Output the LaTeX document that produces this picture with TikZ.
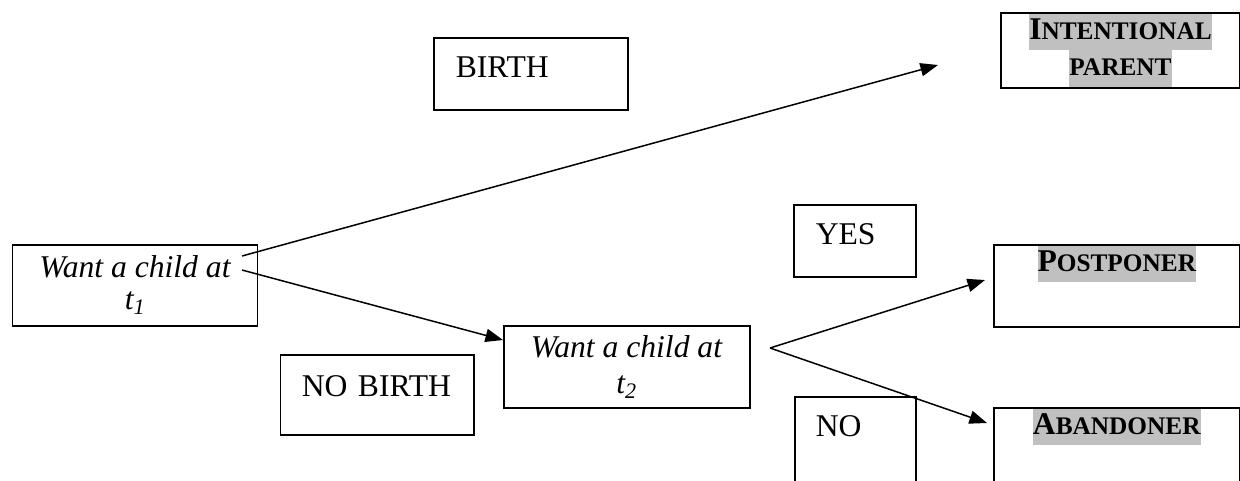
\documentclass[tikz,border=0pt]{standalone}
\usepackage{fontspec}
\setmainfont{Liberation Serif}
\usepackage{xcolor}
\usepackage{tikz}
\usetikzlibrary{arrows.meta}
\setlength{\parindent}{0pt}
\definecolor{hlgray}{RGB}{192,192,192}
% highlighted bold small caps (first letter full size)
\newcommand{\hlsc}[2]{\colorbox{hlgray}{\strut\bfseries #1{\fontsize{14.4}{17}\selectfont #2}}}

\begin{document}
\begin{tikzpicture}[
    lbox/.style={draw, line width=0.85pt, anchor=north west, align=left,
                 inner ysep=0pt},
    cbox/.style={draw, line width=0.85pt, anchor=north west, align=center,
                 inner sep=0pt},
    arrow/.style={-{Triangle[length=10pt, width=7.5pt]}, line width=0.85pt},
    every node/.style={font=\fontsize{18}{20.7}\selectfont}
]
\useasboundingbox (0,0) rectangle (24.8,-9.6);
\clip (0,0) rectangle (24.8,-9.6);
\setlength{\fboxsep}{0pt}

% Outcome labels
\node[lbox, inner xsep=0.44cm, text width=3.00cm, text height=0.80cm, text depth=0.64cm]
    (birth) at (8.66,-0.74) {BIRTH};
\node[lbox, inner xsep=0.42cm, text width=3.02cm, text height=0.84cm, text depth=0.76cm]
    (nobirth) at (5.60,-7.08) {NO BIRTH};
\node[lbox, inner xsep=0.44cm, text width=1.56cm, text height=0.80cm, text depth=0.64cm]
    (yes) at (15.86,-4.08) {YES};
\node[lbox, inner xsep=0.42cm, text width=1.58cm, text height=0.80cm, text depth=1.08cm]
    (no) at (15.88,-7.92) {NO};

% Decision boxes
\node[cbox, minimum width=4.90cm, minimum height=1.62cm] (want1) at (0.24,-4.88)
    {\textit{Want a child at}\\[-2.5pt]\textit{t\textsubscript{1}}};
\node[cbox, minimum width=4.92cm, minimum height=1.64cm] (want2) at (10.06,-6.50)
    {\textit{Want a child at}\\\textit{t\textsubscript{2}}};

% Types
\node[cbox, line width=1.1pt, minimum width=4.78cm, minimum height=1.50cm] (intent) at (20.00,-0.24)
    {\hlsc{I}{NTENTIONAL}\\\hlsc{}{PARENT}};
\node[cbox, minimum width=4.92cm, text height=0.53cm, text depth=1.11cm] (postpone) at (19.86,-4.88)
    {\hlsc{P}{OSTPONER}};
\node[cbox, minimum width=4.92cm, text height=0.53cm, text depth=1.11cm] (abandon) at (19.86,-8.14)
    {\hlsc{A}{BANDONER}};

% Branch points
\coordinate (out1a) at (4.84,-5.12);
\coordinate (out1b) at (4.84,-5.40);
\coordinate (fork2) at (15.40,-6.96);
\coordinate (toIntent) at (18.76,-1.30);
\coordinate (toWant2) at (10.06,-6.80);
\coordinate (toPost) at (19.70,-5.60);
\coordinate (toAband) at (19.74,-8.46);

\draw[arrow] (out1a) -- (toIntent);
\draw[arrow] (out1b) -- (toWant2);
\draw[arrow] (fork2) -- (toPost);
\draw[arrow] (fork2) -- (toAband);
\end{tikzpicture}
\end{document}
